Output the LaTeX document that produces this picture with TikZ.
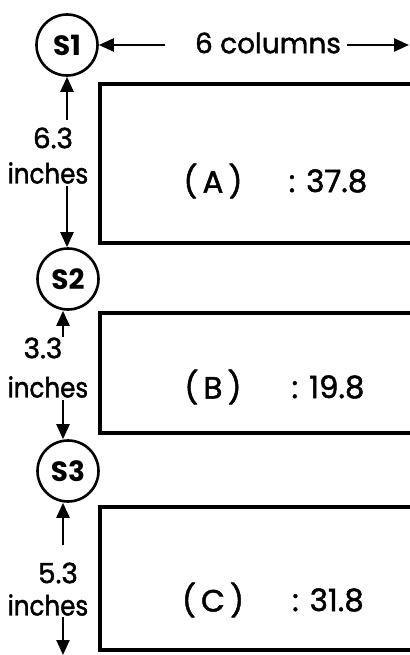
\documentclass[tikz,border=0pt]{standalone}
\usepackage{fontspec}
\setmainfont{Poppins}
\newfontfamily\lblfont{Poppins}[FakeBold=1.5]
\newfontfamily\inchfont{Poppins}[FakeBold=1.5,FakeStretch=0.88]
\usetikzlibrary{arrows.meta}
\begin{document}
\begin{tikzpicture}[x=1bp,y=-1bp,
  stage/.style={circle,draw,line width=2.6bp,minimum size=61bp,inner sep=0pt,font=\fontsize{28}{28}\selectfont\bfseries},
  lbl/.style={font=\fontsize{28}{28}\lblfont, inner sep=0pt},
  inch/.style={font=\fontsize{28}{28}\inchfont, inner sep=0pt},
  boxlbl/.style={font=\fontsize{31}{31}\lblfont, inner sep=0pt},
  dim/.style={line width=2.4bp,-{Triangle[length=15bp,width=13bp]}},
  boxline/.style={line width=3.2bp}]
\useasboundingbox (0,0) rectangle (409,655);
% stations
\node[stage] (S1) at (67,45) {S1};
\node[stage] (S2) at (68,279) {S2};
\node[stage] (S3) at (68,471) {S3};
% top dimension
\node[lbl] (cols) at (268,43) {6 columns};
\coordinate (cl) at (165,45);
\coordinate (cr) at (347,45);
\coordinate (ce) at (409,45);
\draw[dim] (cl) -- (S1.east);
\draw[dim] (cr) -- (ce);
% boxes
\draw[boxline] (420,84) -- (100,84) -- (100,243) -- (420,243);
\draw[boxline] (420,313) -- (100,313) -- (100,433) -- (420,433);
\draw[boxline] (420,507) -- (100,507) -- (100,650) -- (420,650);
\node[boxlbl] (A) at (213,181) {(\,A\,)};
\node[boxlbl] (Av) at (328,181) {: 37.8};
\node[boxlbl] (B) at (213,387) {(\,B\,)};
\node[boxlbl] (Bv) at (328,387) {: 19.8};
\node[boxlbl] (C) at (213,600) {(\,C\,)};
\node[boxlbl] (Cv) at (328,600) {: 31.8};
% vertical dimensions
\node[lbl] (n1) at (53,138) {6.3};
\node[inch] (i1) at (48,173) {inches};
\coordinate (u1) at (67,120);
\coordinate (d1) at (67,186);
\draw[dim] (u1) -- (u1 |- S1.south);
\draw[dim] (d1) -- (d1 |- S2.north);
\node[lbl] (n2) at (43,348) {3.3};
\node[inch] (i2) at (48,387) {inches};
\coordinate (u2) at (63,337);
\coordinate (d2) at (63,400);
\draw[dim] (u2) -- (u2 |- S2.south);
\draw[dim] (d2) -- (d2 |- S3.north);
\node[lbl] (n3) at (58,573) {5.3};
\node[inch] (i3) at (48,605) {inches};
\coordinate (u3) at (63,545);
\coordinate (d3) at (63,617);
\coordinate (e3) at (63,655);
\draw[dim] (u3) -- (u3 |- S3.south);
\draw[dim] (d3) -- (e3);
\end{tikzpicture}
\end{document}
